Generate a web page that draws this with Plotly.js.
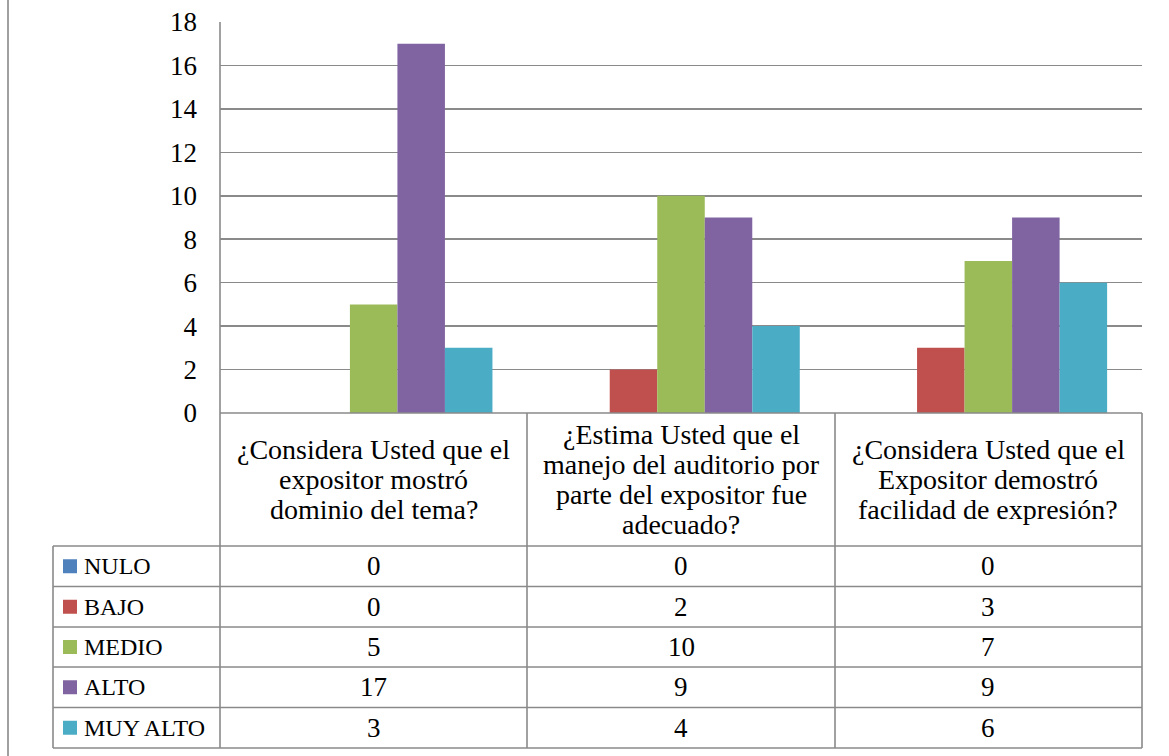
<!DOCTYPE html>
<html>
<head>
<meta charset="utf-8">
<script src="https://cdn.plot.ly/plotly-3.0.1.min.js"></script>
<style>
  html, body { margin: 0; padding: 0; background: #ffffff; }
  #chart { width: 1169px; height: 756px; }
</style>
</head>
<body>
<div id="chart"></div>
<script>
// Survey questions (categories) and the count of answers per rating level
const categories = [
  "¿Considera Usted que el<br>expositor mostró<br>dominio del tema?",
  "¿Estima Usted que el<br>manejo del auditorio por<br>parte del expositor fue<br>adecuado?",
  "¿Considera Usted que el<br>Expositor demostró<br>facilidad de expresión?"
];
const seriesNames = ["NULO", "BAJO", "MEDIO", "ALTO", "MUY ALTO"];
const nulo    = [0, 0, 0];
const bajo    = [0, 2, 3];
const medio   = [5, 10, 7];
const alto    = [17, 9, 9];
const muyAlto = [3, 4, 6];
const yTicks  = [0, 2, 4, 6, 8, 10, 12, 14, 16, 18];

const seriesValues = [nulo, bajo, medio, alto, muyAlto];
const seriesColors = ["#4F81BD", "#C0504D", "#9BBB59", "#8064A2", "#4BACC6"];

const W = 1169, H = 756;
const FONT = '"Liberation Serif", "DejaVu Serif", serif';
const GRID = "#8a8a8a";

// pixel helpers for the frame / data table drawn under the plot
const px = x => x / W;
const py = y => 1 - y / H;

// category ids keep the axis simple; full labels go into the table header
const catIds = categories.map((_, i) => "c" + i);

const traces = seriesNames.map((name, s) => ({
  type: "bar",
  name: name,
  x: catIds,
  y: seriesValues[s],
  marker: { color: seriesColors[s], line: { width: 0 } },
  hoverinfo: "skip"
}));

// table geometry (pixels)
const plotL = 220, plotR = 1142, plotT = 22, plotB = 413;
const tableL = 53;
const colEdges = [220, 527, 835, 1142];
const headerB = 546;
const rowEdges = [546, 586.5, 627, 667, 707.5, 748];

const lineStyle = { color: GRID, width: 1.6 };
const shapes = [];
const hline = (x0, x1, y) => shapes.push({ type: "line", xref: "paper", yref: "paper",
  x0: px(x0), x1: px(x1), y0: py(y), y1: py(y), line: lineStyle, layer: "above" });
const vline = (x, y0, y1) => shapes.push({ type: "line", xref: "paper", yref: "paper",
  x0: px(x), x1: px(x), y0: py(y0), y1: py(y1), line: lineStyle, layer: "above" });

// outer frame on the left side
shapes.push({ type: "line", xref: "paper", yref: "paper", x0: px(8), x1: px(8), y0: 0, y1: 1,
  line: { color: "#a0a0a0", width: 2 } });

// plot area left edge continuing through the table
vline(plotL, plotT, rowEdges[rowEdges.length - 1]);
hline(plotL, plotR, plotB);
colEdges.slice(1).forEach(x => vline(x, plotB, rowEdges[rowEdges.length - 1]));
vline(tableL, headerB, rowEdges[rowEdges.length - 1]);
rowEdges.forEach(y => hline(tableL, plotR, y));

const annotations = [];
const headFont  = { family: FONT, size: 28, color: "#000" };
const valFont   = { family: FONT, size: 27, color: "#000" };
const nameFont  = { family: FONT, size: 24, color: "#000" };

// header cells: each question, line by line
const headerMid = (plotB + headerB) / 2;
categories.forEach((label, c) => {
  const lines = label.split("<br>");
  lines.forEach((ln, i) => {
    annotations.push({
      xref: "x", yref: "paper", x: catIds[c], y: py(headerMid),
      yshift: -(i - (lines.length - 1) / 2) * 30,
      text: ln, showarrow: false, xanchor: "center", yanchor: "middle",
      font: headFont
    });
  });
});

// data rows: legend key + values
seriesNames.forEach((name, s) => {
  const yMid = (rowEdges[s] + rowEdges[s + 1]) / 2;
  shapes.push({ type: "rect", xref: "paper", yref: "paper",
    x0: px(63), x1: px(77), y0: py(yMid + 7), y1: py(yMid - 7),
    fillcolor: seriesColors[s], line: { width: 0 } });
  annotations.push({
    xref: "paper", yref: "paper", x: px(82), y: py(yMid),
    text: name, showarrow: false, xanchor: "left", yanchor: "middle",
    font: nameFont
  });
  seriesValues[s].forEach((v, c) => {
    annotations.push({
      xref: "x", yref: "paper", x: catIds[c], y: py(yMid),
      text: String(v), showarrow: false, xanchor: "center", yanchor: "middle",
      font: valFont
    });
  });
});

const layout = {
  width: W, height: H,
  margin: { l: 0, r: 0, t: 0, b: 0 },
  paper_bgcolor: "#ffffff",
  plot_bgcolor: "#ffffff",
  showlegend: false,
  barmode: "group",
  bargap: 0.227,
  bargroupgap: 0,
  font: valFont,
  xaxis: {
    domain: [px(plotL), px(plotR)],
    type: "category",
    showticklabels: false,
    showgrid: false, zeroline: false, showline: false, ticks: ""
  },
  yaxis: {
    domain: [py(plotB), py(plotT)],
    range: [0, 18],
    tickvals: yTicks,
    ticktext: yTicks.map(String),
    showgrid: true, gridcolor: GRID, gridwidth: 1.6,
    zeroline: false, showline: false, ticks: "",
    ticklabelstandoff: 22,
    tickfont: valFont
  },
  shapes: shapes,
  annotations: annotations
};

Plotly.newPlot("chart", traces, layout, { displayModeBar: false, staticPlot: true });
</script>
</body>
</html>
